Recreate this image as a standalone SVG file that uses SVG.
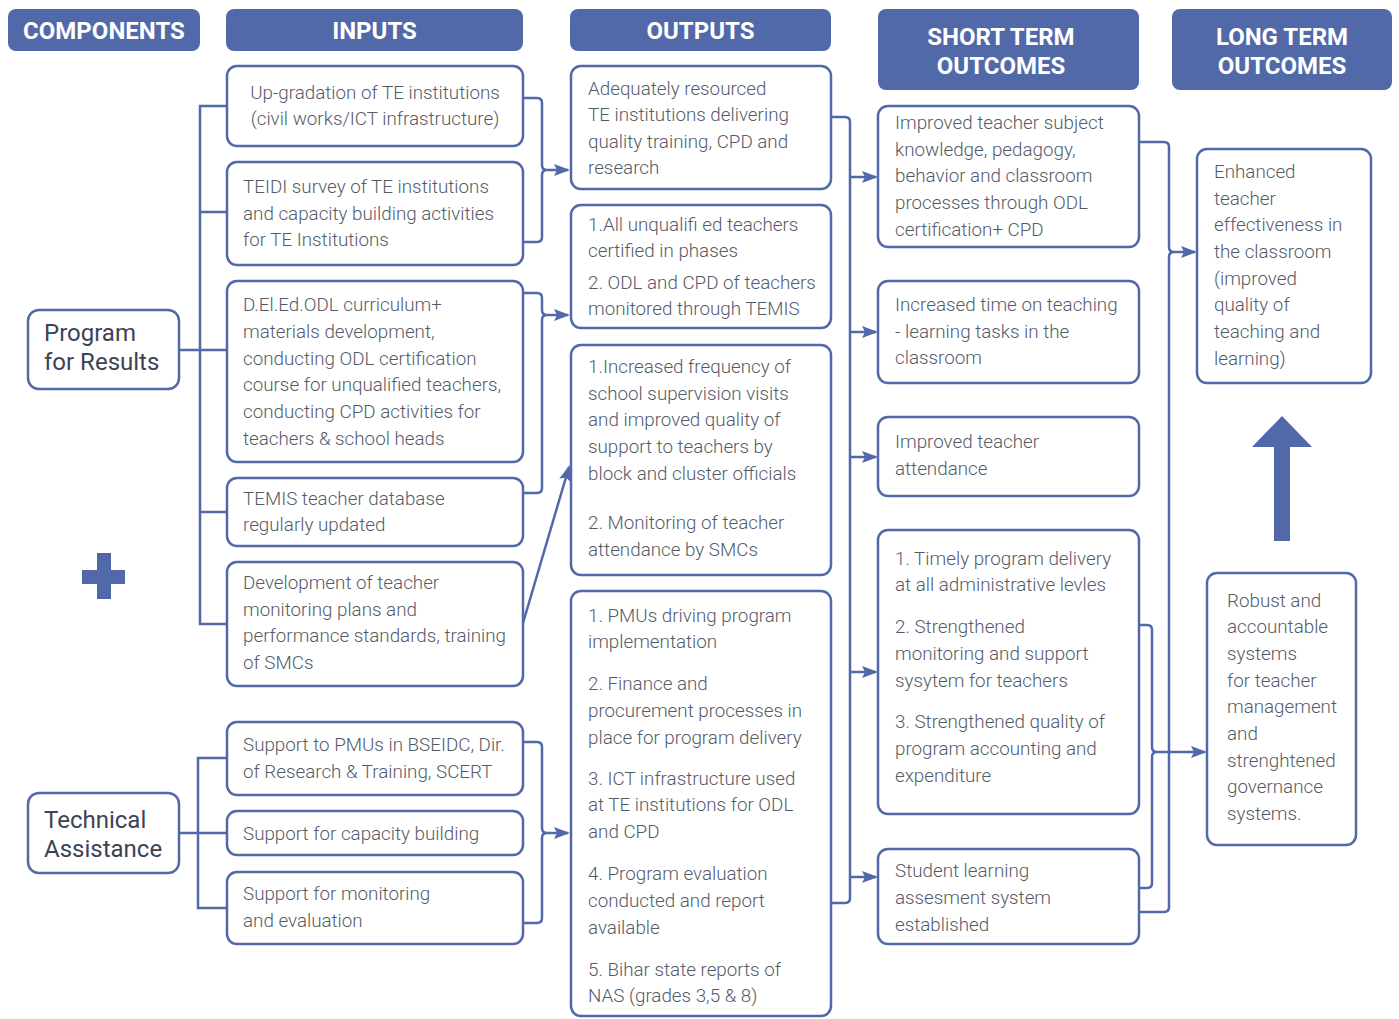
<svg xmlns="http://www.w3.org/2000/svg" width="1399" height="1019" viewBox="0 0 1399 1019">
<style>
.box{fill:#fff;stroke:#5169a9;stroke-width:2.5}
.hdr{fill:#5169a9}
.ht{font-family:Roboto,"Liberation Sans",sans-serif;font-weight:700;font-size:24px;fill:#fff;text-anchor:middle}
.t{font-family:Roboto,"Liberation Sans",sans-serif;font-weight:300;font-size:18.8px;fill:#545b68}
.tc{text-anchor:middle}
.c{font-family:Roboto,"Liberation Sans",sans-serif;font-weight:400;font-size:24px;fill:#3b4357}
.conn{fill:none;stroke:#5169a9;stroke-width:2.5}
.arr{fill:none;stroke:#5169a9;stroke-width:2.5;marker-end:url(#ah)}
.solid{fill:#5169a9}
</style>
<defs>
<marker id="ah" viewBox="0 0 16 12" refX="14" refY="6" markerWidth="16" markerHeight="12" markerUnits="userSpaceOnUse" orient="auto">
<path d="M0,0 L16,6 L0,12 L3,6 Z" fill="#5169a9"/>
</marker>
</defs>
<rect width="1399" height="1019" fill="#fff"/>

<g id="headers">
<g id="h-components"><rect class="hdr" x="8" y="9" width="192" height="42" rx="8"/><text class="ht" x="104" y="38.5">COMPONENTS</text></g>
<g id="h-inputs"><rect class="hdr" x="226" y="9" width="297" height="42" rx="8"/><text class="ht" x="374.5" y="38.5">INPUTS</text></g>
<g id="h-outputs"><rect class="hdr" x="570" y="9" width="261" height="42" rx="8"/><text class="ht" x="700.5" y="38.5">OUTPUTS</text></g>
<g id="h-short"><rect class="hdr" x="878" y="9" width="261" height="81" rx="8"/><text class="ht" x="1001" y="45">SHORT TERM</text><text class="ht" x="1001" y="74">OUTCOMES</text></g>
<g id="h-long"><rect class="hdr" x="1172" y="9" width="220" height="81" rx="8"/><text class="ht" x="1282" y="45">LONG TERM</text><text class="ht" x="1282" y="74">OUTCOMES</text></g>
</g>

<g id="connectors">
<path class="conn" d="M227,106 H200 V624 H227 M200,212 H227 M200,512 H227 M179,350 H227"/>
<path class="conn" d="M227,758 H198 V908 H227 M179,833 H227"/>
<path class="conn" d="M523,98 H537 Q542,98 542,103 V165 Q542,170 547,170 M547,170 Q542,170 542,175 V237 Q542,242 537,242 H523"/>
<path class="arr" d="M547,170 H568"/>
<path class="conn" d="M523,293 H537 Q542,293 542,298 V310 Q542,315 547,315 M547,315 Q542,315 542,320 V488 Q542,493 537,493 H523"/>
<path class="arr" d="M547,315 H568"/>
<path class="conn" d="M523,742 H537 Q542,742 542,747 V828 Q542,833 547,833 M547,833 Q542,833 542,838 V918 Q542,923 537,923 H523"/>
<path class="arr" d="M547,833 H568"/>
<path class="arr" d="M523,623 L569,467"/>
<path class="conn" d="M831,117 H845 Q850,117 850,122 V898 Q850,903 845,903 H831"/>
<path class="arr" d="M850,177 H876"/>
<path class="arr" d="M850,332 H876"/>
<path class="arr" d="M850,457 H876"/>
<path class="arr" d="M850,672 H876"/>
<path class="arr" d="M850,877 H876"/>
<path class="conn" d="M1139,142 H1164 Q1169,142 1169,147 V247 Q1169,252 1174,252 M1174,252 Q1169,252 1169,257 V907 Q1169,912 1164,912 H1139"/>
<path class="arr" d="M1174,252 H1195"/>
<path class="conn" d="M1139,625 H1147 Q1152,625 1152,630 V747 Q1152,752 1157,752 M1157,752 Q1152,752 1152,757 V883 Q1152,888 1147,888 H1139"/>
<path class="arr" d="M1157,752 H1205"/>
</g>

<g id="comp-pfr"><rect class="box" x="28" y="310" width="151" height="79" rx="11"/><text class="c" x="44" y="341">Program</text><text class="c" x="44" y="370">for Results</text></g>
<g id="comp-ta"><rect class="box" x="28" y="793" width="151" height="80" rx="11"/><text class="c" x="44" y="828">Technical</text><text class="c" x="44" y="857">Assistance</text></g>
<g id="plus"><rect class="solid" x="97" y="553" width="14" height="46"/><rect class="solid" x="82" y="570" width="43" height="14"/></g>

<g id="in1"><rect class="box" x="227" y="66" width="296" height="80" rx="10"/><text class="t tc" x="375" y="99">Up-gradation of TE institutions</text><text class="t tc" x="375" y="125">(civil works/ICT infrastructure)</text></g>
<g id="in2"><rect class="box" x="227" y="162" width="296" height="103" rx="10"/><text class="t" x="243" y="193">TEIDI survey of TE institutions</text><text class="t" x="243" y="220">and capacity building activities</text><text class="t" x="243" y="246">for TE Institutions</text></g>
<g id="in3"><rect class="box" x="227" y="281" width="296" height="181" rx="10"/><text class="t" x="243" y="311">D.El.Ed.ODL curriculum+</text><text class="t" x="243" y="338">materials development,</text><text class="t" x="243" y="365">conducting ODL certification</text><text class="t" x="243" y="391">course for unqualified teachers,</text><text class="t" x="243" y="418">conducting CPD activities for</text><text class="t" x="243" y="445">teachers &amp; school heads</text></g>
<g id="in4"><rect class="box" x="227" y="478" width="296" height="68" rx="10"/><text class="t" x="243" y="505">TEMIS teacher database</text><text class="t" x="243" y="531">regularly updated</text></g>
<g id="in5"><rect class="box" x="227" y="562" width="296" height="124" rx="10"/><text class="t" x="243" y="589">Development of teacher</text><text class="t" x="243" y="616">monitoring plans and</text><text class="t" x="243" y="642">performance standards, training</text><text class="t" x="243" y="669">of SMCs</text></g>
<g id="in6"><rect class="box" x="227" y="722" width="296" height="73" rx="10"/><text class="t" x="243" y="751">Support to PMUs in BSEIDC, Dir.</text><text class="t" x="243" y="778">of Research &amp; Training, SCERT</text></g>
<g id="in7"><rect class="box" x="227" y="811" width="296" height="44" rx="10"/><text class="t" x="243" y="840">Support for capacity building</text></g>
<g id="in8"><rect class="box" x="227" y="872" width="296" height="72" rx="10"/><text class="t" x="243" y="900">Support for monitoring</text><text class="t" x="243" y="927">and evaluation</text></g>

<g id="out1"><rect class="box" x="571" y="66" width="260" height="123" rx="10"/><text class="t" x="588" y="95">Adequately resourced</text><text class="t" x="588" y="121">TE institutions delivering</text><text class="t" x="588" y="148">quality training, CPD and</text><text class="t" x="588" y="174">research</text></g>
<g id="out2"><rect class="box" x="571" y="205" width="260" height="123" rx="10"/><text class="t" x="588" y="231">1.All unqualifi ed teachers</text><text class="t" x="588" y="257">certified in phases</text><text class="t" x="588" y="289">2. ODL and CPD of teachers</text><text class="t" x="588" y="315">monitored through TEMIS</text></g>
<g id="out3"><rect class="box" x="571" y="345" width="260" height="230" rx="10"/><text class="t" x="588" y="373">1.Increased frequency of</text><text class="t" x="588" y="400">school supervision visits</text><text class="t" x="588" y="426">and improved quality of</text><text class="t" x="588" y="453">support to teachers by</text><text class="t" x="588" y="480">block and cluster officials</text><text class="t" x="588" y="529">2. Monitoring of teacher</text><text class="t" x="588" y="556">attendance by SMCs</text></g>
<g id="out4"><rect class="box" x="571" y="591" width="260" height="425" rx="10"/><text class="t" x="588" y="622">1. PMUs driving program</text><text class="t" x="588" y="648">implementation</text><text class="t" x="588" y="690">2. Finance and</text><text class="t" x="588" y="717">procurement processes in</text><text class="t" x="588" y="744">place for program delivery</text><text class="t" x="588" y="785">3. ICT infrastructure used</text><text class="t" x="588" y="811">at TE institutions for ODL</text><text class="t" x="588" y="838">and CPD</text><text class="t" x="588" y="880">4. Program evaluation</text><text class="t" x="588" y="907">conducted and report</text><text class="t" x="588" y="934">available</text><text class="t" x="588" y="976">5. Bihar state reports of</text><text class="t" x="588" y="1002">NAS (grades 3,5 &amp; 8)</text></g>

<g id="st1"><rect class="box" x="878" y="106" width="261" height="141" rx="10"/><text class="t" x="895" y="129">Improved teacher subject</text><text class="t" x="895" y="156">knowledge, pedagogy,</text><text class="t" x="895" y="182">behavior and classroom</text><text class="t" x="895" y="209">processes through ODL</text><text class="t" x="895" y="236">certification+ CPD</text></g>
<g id="st2"><rect class="box" x="878" y="281" width="261" height="102" rx="10"/><text class="t" x="895" y="311">Increased time on teaching</text><text class="t" x="895" y="338">- learning tasks in the</text><text class="t" x="895" y="364">classroom</text></g>
<g id="st3"><rect class="box" x="878" y="417" width="261" height="79" rx="10"/><text class="t" x="895" y="448">Improved teacher</text><text class="t" x="895" y="475">attendance</text></g>
<g id="st4"><rect class="box" x="878" y="530" width="261" height="284" rx="10"/><text class="t" x="895" y="565">1. Timely program delivery</text><text class="t" x="895" y="591">at all administrative levles</text><text class="t" x="895" y="633">2. Strengthened</text><text class="t" x="895" y="660">monitoring and support</text><text class="t" x="895" y="687">sysytem for teachers</text><text class="t" x="895" y="728">3. Strengthened quality of</text><text class="t" x="895" y="755">program accounting and</text><text class="t" x="895" y="782">expenditure</text></g>
<g id="st5"><rect class="box" x="878" y="849" width="261" height="95" rx="10"/><text class="t" x="895" y="877">Student learning</text><text class="t" x="895" y="904">assesment system</text><text class="t" x="895" y="931">established</text></g>

<g id="lt1"><rect class="box" x="1197" y="149" width="174" height="234" rx="10"/><text class="t" x="1214" y="178">Enhanced</text><text class="t" x="1214" y="205">teacher</text><text class="t" x="1214" y="231">effectiveness in</text><text class="t" x="1214" y="258">the classroom</text><text class="t" x="1214" y="285">(improved</text><text class="t" x="1214" y="311">quality of</text><text class="t" x="1214" y="338">teaching and</text><text class="t" x="1214" y="365">learning)</text></g>
<g id="lt2"><rect class="box" x="1207" y="573" width="149" height="272" rx="10"/><text class="t" x="1227" y="607">Robust and</text><text class="t" x="1227" y="633">accountable</text><text class="t" x="1227" y="660">systems</text><text class="t" x="1227" y="687">for teacher</text><text class="t" x="1227" y="713">management</text><text class="t" x="1227" y="740">and</text><text class="t" x="1227" y="767">strenghtened</text><text class="t" x="1227" y="793">governance</text><text class="t" x="1227" y="820">systems.</text></g>

<g id="big-arrow"><polygon class="solid" points="1282,416 1312,447 1290,447 1290,541 1274,541 1274,447 1252,447"/></g>
</svg>
